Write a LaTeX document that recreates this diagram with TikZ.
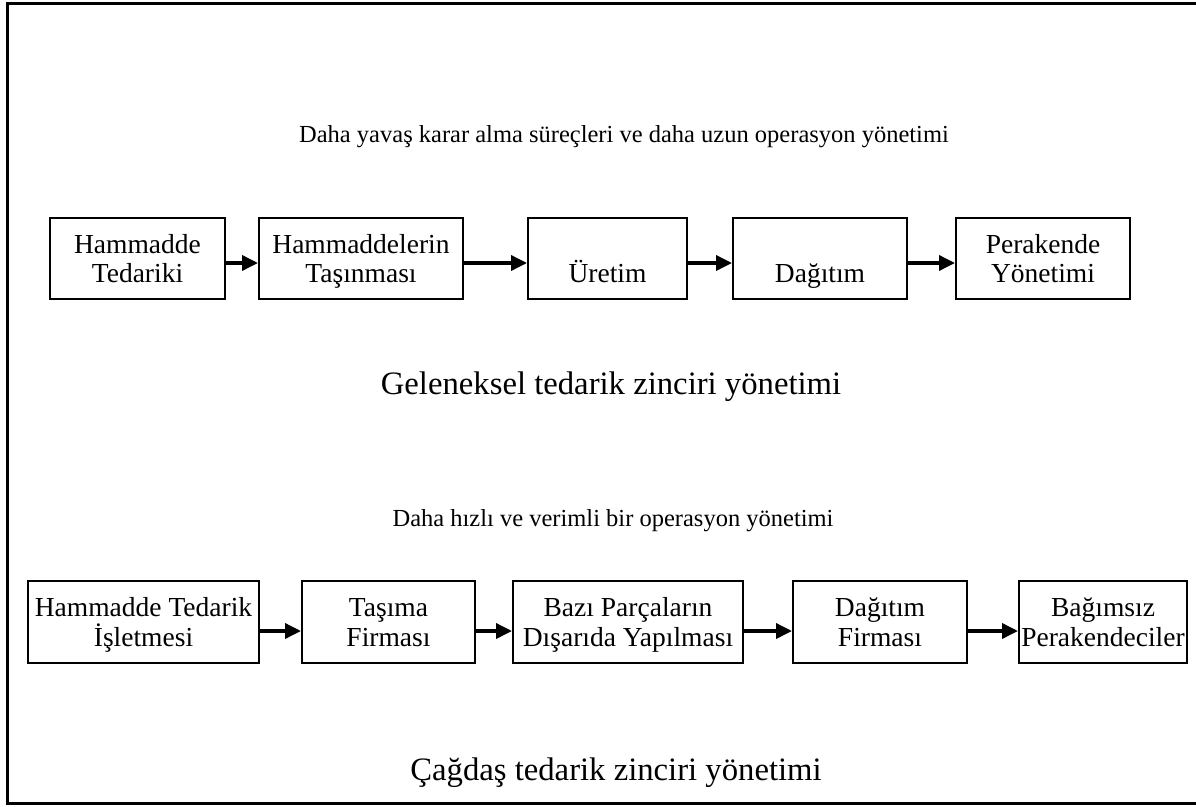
\documentclass[tikz,border=0pt]{standalone}
\usepackage{fontspec}
\setmainfont{Liberation Serif}
\usetikzlibrary{arrows.meta}
\newcommand{\ustbosluk}{\rule{0pt}{27.4pt}}

\begin{document}
\begin{tikzpicture}[x=1pt,y=-1pt]
		
		\tikzstyle{every node}=[font=\fontsize{27.5}{29.5}\selectfont]
		\tikzstyle{kutu}=[draw, line width=2pt, align=center, inner sep=0pt]
		\tikzstyle{baslik}=[font=\fontsize{24.5}{30}\selectfont]
		\tikzstyle{altyazi}=[font=\fontsize{32.7}{38}\selectfont]
		\tikzstyle{ok}=[line width=3.5pt, -{Triangle[length=16pt,width=15pt]}]
		
		\useasboundingbox (0,0) rectangle (1196,806);
		\draw[line width=3pt] (1196,3) -- (7,3) -- (7,803) -- (1196,803);
		
		% geleneksel
		\node[baslik] (baslik1) at (624,137) {Daha yava\c{s} karar alma s\"{u}re\c{c}leri ve daha uzun operasyon y\"{o}netimi};
		
		\begin{scope}[every node/.append style={minimum height=81pt}]
		\node[kutu, minimum width=175pt] (hamTed) at (137.5,258.5) {\ustbosluk Hammadde\\\strut Tedariki};
		\node[kutu, minimum width=204pt] (hamTas) at (361,258.5) {\ustbosluk Hammaddelerin\\\strut Ta\c{s}{\i}nmas{\i}};
		\node[kutu, minimum width=159pt] (uretim) at (607.5,258.5) {\ustbosluk\\\strut\"{U}retim};
		\node[kutu, minimum width=174pt] (dagitim) at (820,258.5) {\ustbosluk\\\strut Da\u{g}{\i}t{\i}m};
		\node[kutu, minimum width=174pt] (perakende) at (1043,258.5) {\ustbosluk Perakende\\\strut Y\"{o}netimi};
		\end{scope}
		
		\draw[ok] ([yshift=-4.5pt]hamTed.east) -- ([yshift=-4.5pt]hamTas.west);
		\draw[ok] ([yshift=-4.5pt]hamTas.east) -- ([yshift=-4.5pt]uretim.west);
		\draw[ok] ([yshift=-4.5pt]uretim.east) -- ([yshift=-4.5pt]dagitim.west);
		\draw[ok] ([yshift=-4.5pt]dagitim.east) -- ([yshift=-4.5pt]perakende.west);
		
		\node[altyazi] (alt1) at (611,387) {Geleneksel tedarik zinciri y\"{o}netimi};
		
		% çağdaş
		\node[baslik] (baslik2) at (613,521) {Daha h{\i}zl{\i} ve verimli bir operasyon y\"{o}netimi};
		
		\begin{scope}[every node/.append style={minimum height=82pt}]
		\node[kutu, minimum width=231pt] (isletme) at (143.5,622) {\ustbosluk Hammadde Tedarik\\\strut\.{I}\c{s}letmesi};
		\node[kutu, minimum width=173pt] (tasima) at (388.5,622) {\ustbosluk Ta\c{s}{\i}ma\\\strut Firmas{\i}};
		\node[kutu, minimum width=230pt] (parca) at (628,622) {\ustbosluk Baz{\i} Par\c{c}alar{\i}n\\\strut D{\i}\c{s}ar{\i}da Yap{\i}lmas{\i}};
		\node[kutu, minimum width=174pt] (dagFirma) at (880,622) {\ustbosluk Da\u{g}{\i}t{\i}m\\\strut Firmas{\i}};
		\node[kutu, minimum width=168pt] (bagimsiz) at (1103,622) {\ustbosluk Ba\u{g}{\i}ms{\i}z\\\strut Perakendeciler};
		\end{scope}
		
		\draw[ok] ([yshift=-9pt]isletme.east) -- ([yshift=-9pt]tasima.west);
		\draw[ok] ([yshift=-9pt]tasima.east) -- ([yshift=-9pt]parca.west);
		\draw[ok] ([yshift=-9pt]parca.east) -- ([yshift=-9pt]dagFirma.west);
		\draw[ok] ([yshift=-9pt]dagFirma.east) -- ([yshift=-9pt]bagimsiz.west);
		
		\node[altyazi] (alt2) at (616,773) {\c{C}a\u{g}da\c{s} tedarik zinciri y\"{o}netimi};
		
		\end{tikzpicture}
\end{document}
